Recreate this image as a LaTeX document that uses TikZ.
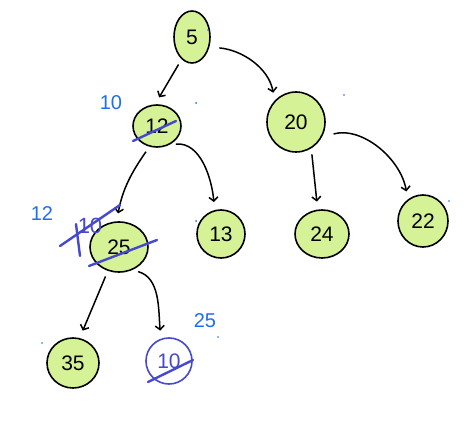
\documentclass[tikz,border=0pt]{standalone}
\usepackage{fontspec}
\setmainfont{Liberation Sans}
\usetikzlibrary{shapes.geometric,arrows.meta,calc}
\definecolor{leaf}{RGB}{214,242,150}
\definecolor{inkblue}{RGB}{30,110,240}
\definecolor{strike}{RGB}{70,72,205}
\begin{document}
\begin{tikzpicture}[x=1pt,y=-1pt,
  heap/.style={ellipse, draw=black, line width=1.6pt, fill=leaf, inner sep=0pt, font=\fontsize{21}{23}\selectfont},
  edge/.style={draw=black, line width=1.5pt, -{Straight Barb[length=4pt,width=9pt]}, shorten >=8pt, shorten <=6pt},
  note/.style={text=inkblue, font=\fontsize{20}{22}\selectfont},
  cross/.style={draw=strike, line width=2.4pt, line cap=round},
  speck/.style={fill=inkblue}]
\fill[white] (0,0) rectangle (474,425);
\useasboundingbox (0,0) rectangle (474,425);

% heap nodes
\node[heap, minimum width=36pt, minimum height=52pt] (n5) at (192,37) {5};
\node[heap, minimum width=48pt, minimum height=42pt] (n12) at (157,126) {12};
\node[heap, minimum width=58pt, minimum height=60pt] (n20) at (296,122) {20};
\node[heap, minimum width=58pt, minimum height=50pt] (n25) at (119,247) {25};
\node[heap, minimum width=48pt, minimum height=48pt] (n13) at (221,234) {13};
\node[heap, minimum width=54pt, minimum height=48pt] (n24) at (322,234) {24};
\node[heap, minimum width=50pt, minimum height=52pt] (n22) at (423,221) {22};
\node[heap, minimum width=52pt, minimum height=50pt] (n35) at (73,363) {35};
\node[heap, fill=none, draw=strike, text=strike, minimum width=46pt, minimum height=46pt] (n10) at (169,361) {10};

% connectors
\draw[edge] (n5.245) -- (n12.95);
\draw[edge, shorten <=10pt] (n5.-30) to[out=-5,in=100] (n20.135);
\draw[edge] (n12.-110) to[out=-125,in=80] (n25.95);
\draw[edge] (n12.-55) to[out=5,in=95] (n13.105);
\draw[edge] (n20.-60) -- (n24.100);
\draw[edge, shorten <=12pt] (n20.-30) to[out=15,in=100] (n22.125);
\draw[edge] (n25.-115) -- (n35.75);
\draw[edge] (n25.-60) to[out=-15,in=95] (n10.110);

% blue annotations
\node[note] (l10) at (111,103) {10};
\node[note] (l12) at (42,214) {12};
\node[note] (l25) at (205,321) {25};
\node[note, text=strike, font=\fontsize{22}{24}\selectfont] (old10) at (90,226) {10};

% strike-outs
\draw[cross] ($(n12)+(-24,15)$) -- ($(n12)+(19,-5)$);
\draw[cross] ($(n25)+(-30,19)$) -- ($(n25)+(38,-7)$);
\draw[cross] ($(old10)+(-30,20)$) -- ($(old10)+(30,-21)$);
\draw[cross] ($(old10)+(-14,-2)$) -- ($(old10)+(-10,30)$);
\draw[cross] ($(n10)+(-21,21)$) -- ($(n10)+(24,-1)$);

% small specks
\fill[speck] (196,103) circle (1pt);
\fill[speck] (208,30) circle (0.8pt);
\fill[speck] (344,95) circle (0.8pt);
\fill[speck] (449,201) circle (0.8pt);
\fill[speck] (42,343) circle (0.8pt);
\fill[speck] (196,221) circle (1pt);
\fill[speck] (218,337) circle (0.8pt);
\end{tikzpicture}
\end{document}
